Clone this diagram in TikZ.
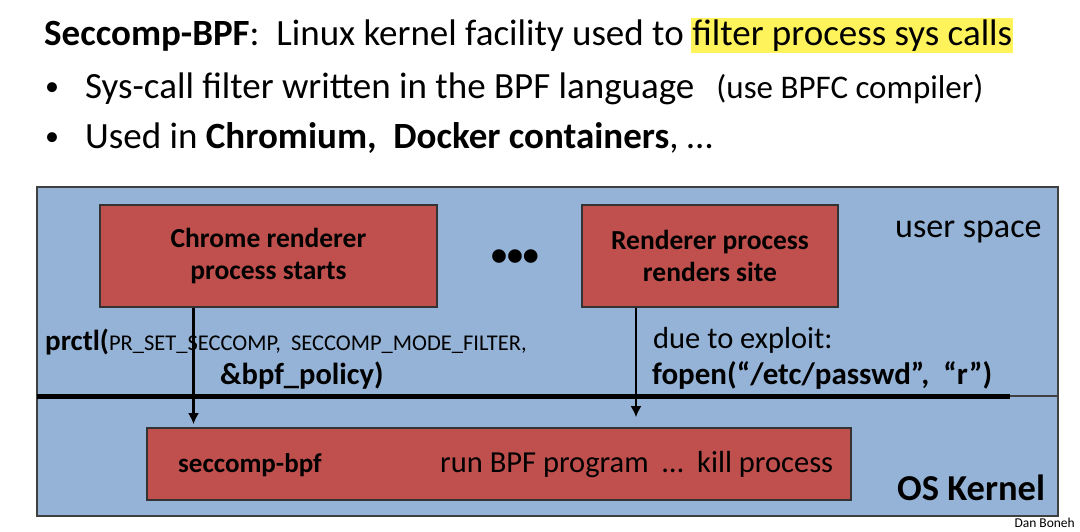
\documentclass[tikz,border=0pt]{standalone}
\usepackage{fontspec}
\setmainfont{Carlito}
\usetikzlibrary{positioning,arrows.meta}
\definecolor{kblue}{HTML}{95B3D7}
\definecolor{kred}{HTML}{C0504D}
\definecolor{hlyellow}{HTML}{FFF35C}

\begin{document}
\begin{tikzpicture}[x=1pt,y=-1pt,>={Latex[length=11pt,width=11pt]},
  procbox/.style={draw=black!80,fill=kred,line width=1.6pt,inner sep=0pt,align=center,font=\fontsize{27.5}{32}\selectfont\bfseries},
  txt/.style={anchor=base west,inner sep=0pt},
  big/.style={font=\fontsize{37}{42}\selectfont},
  bullet/.style={anchor=base west,inner sep=0pt,font=\fontsize{28}{30}\selectfont}]
\useasboundingbox (0,0) rectangle (1080,531);

% header lines
\node[txt,big](title) at (44,45) {\textbf{Seccomp-BPF}:\ \ Linux kernel facility used to};
\node[txt,big,fill=hlyellow,text height=27,text depth=8,inner xsep=1pt](hilite) at ([xshift=7]title.base east) {filter process sys calls};
\node[bullet](dot1) at (45,95) {•};
\node[txt,big](line1) at (85,98) {Sys-call filter written in the BPF language\hspace{22pt}{\fontsize{33}{36}\selectfont(use BPFC compiler)}};
\node[bullet](dot2) at (45,145) {•};
\node[txt,big](line2) at (85,148) {Used in \textbf{Chromium,\ \ Docker containers}, …};

% user space and kernel
\draw[draw=black!75,line width=1.2pt,fill=kblue] (37,187) rectangle (1058,516);
\draw[line width=5pt] (37,396) -- (1010,396);
\draw[black!75,line width=1.2pt] (1010,396) -- (1058,396);

\node[procbox,minimum width=337,minimum height=102](chrome) at (268.5,256) {Chrome renderer\\process starts};
\node[procbox,minimum width=256,minimum height=102](render) at (710,256) {Renderer process\\renders site};
\node[font=\fontsize{32}{32}\selectfont\bfseries](dots) at (515,258) {•••};
\node[txt,font=\fontsize{34}{38}\selectfont](user) at (895,237) {user space};

\node[procbox,minimum width=704,minimum height=72](kernel) at (499,464) {};
\node[txt,font=\fontsize{27}{30}\selectfont\bfseries](seccomp) at (178,472) {seccomp-bpf};
\node[txt,font=\fontsize{30.5}{34}\selectfont](runbpf) at (440,472) {run BPF program\ \ …\ \ kill process};
\node[txt,font=\fontsize{36.5}{40}\selectfont\bfseries](oskernel) at (897,500) {OS Kernel};

% sys calls
\node[txt,font=\fontsize{29}{32}\selectfont\bfseries](prctl) at (45,350) {prctl(\mdseries\fontsize{22.5}{26}\selectfont PR\_SET\_SECCOMP,\ \ SECCOMP\_MODE\_FILTER,};
\node[txt,font=\fontsize{30.5}{34}\selectfont\bfseries](policy) at (220,384) {\&bpf\_policy)};
\node[txt,font=\fontsize{30.5}{34}\selectfont](exploit) at (653,348) {due to exploit:};
\node[txt,font=\fontsize{31}{34}\selectfont\bfseries](fopen) at (652,384) {fopen(“/etc/passwd”,\ \ “r”)};

\draw[->,line width=2.8pt] ([xshift=-75]chrome.south) -- ([xshift=-75]chrome.south |- kernel.north) [shorten >=3pt];
\draw[->,line width=2.8pt] ([xshift=-74]render.south) -- ([xshift=-74]render.south |- kernel.north) [shorten >=10pt];

\node[anchor=base east,inner sep=0pt,font=\fontsize{13.5}{15}\selectfont](author) at (1075,527) {Dan Boneh};
\end{tikzpicture}
\end{document}
